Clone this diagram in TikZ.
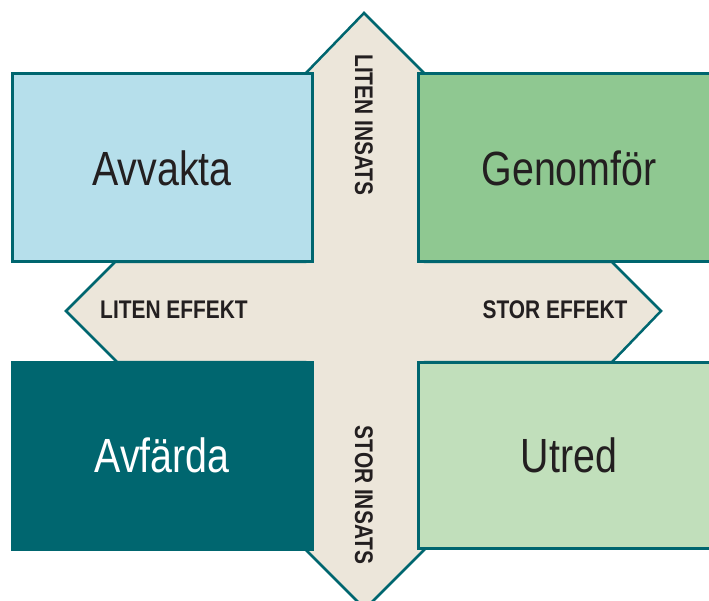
\documentclass[tikz,border=0pt]{standalone}
\usepackage{fontspec}
\setmainfont{Liberation Sans}[FakeStretch=0.82]
\definecolor{teal}{HTML}{00666F}
\definecolor{beige}{HTML}{ECE6DA}
\definecolor{lblue}{HTML}{B6DFEB}
\definecolor{mgreen}{HTML}{8FC891}
\definecolor{lgreen}{HTML}{C1DFBB}
\definecolor{ink}{HTML}{231F20}
\tikzset{
  quad/.style={draw=teal, line width=3pt, inner sep=0pt, outer sep=0pt, text=ink,
    font=\fontsize{48}{50}\selectfont},
  axislabel/.style={inner sep=0pt, text=ink, font=\bfseries\fontsize{25.5}{27}\selectfont},
  crossbg/.style={fill=beige, draw=teal, line width=2.5pt, line join=miter}
}
\begin{document}
\begin{tikzpicture}[x=1pt,y=-1pt]
\useasboundingbox (0,0) rectangle (709,601);
\clip (0,0) rectangle (709,601);
\fill[white] (0,0) rectangle (709,601);
% cross of four arrows
\draw[crossbg] (364,13) -- (425,74) -- (425,262) -- (612,262) -- (661,311) -- (612,362)
  -- (425,362) -- (425,549) -- (365,609) -- (305,549) -- (305,362) -- (117,362)
  -- (66,311) -- (115,262) -- (305,262) -- (305,74) -- cycle;
% quadrants
\node[quad, fill=lblue, minimum width=300pt, minimum height=188pt] (avvakta) at (162,168) {Avvakta};
\node[quad, fill=mgreen, minimum width=302pt, minimum height=188pt] (genomfor) at (569,168) {Genomför};
\node[quad, fill=teal, text=white, minimum width=300pt, minimum height=187pt] (avfarda) at (162,455.5) {Avfärda};
\node[quad, fill=lgreen, minimum width=302pt, minimum height=186pt] (utred) at (569,455) {Utred};
% axis labels
\node[axislabel] (le) at (174,310) {LITEN EFFEKT};
\node[axislabel] (se) at (555,310) {STOR EFFEKT};
\node[axislabel, rotate=-90] (li) at (364,125) {LITEN INSATS};
\node[axislabel, rotate=-90] (si) at (364,495) {STOR INSATS};
\end{tikzpicture}
\end{document}
